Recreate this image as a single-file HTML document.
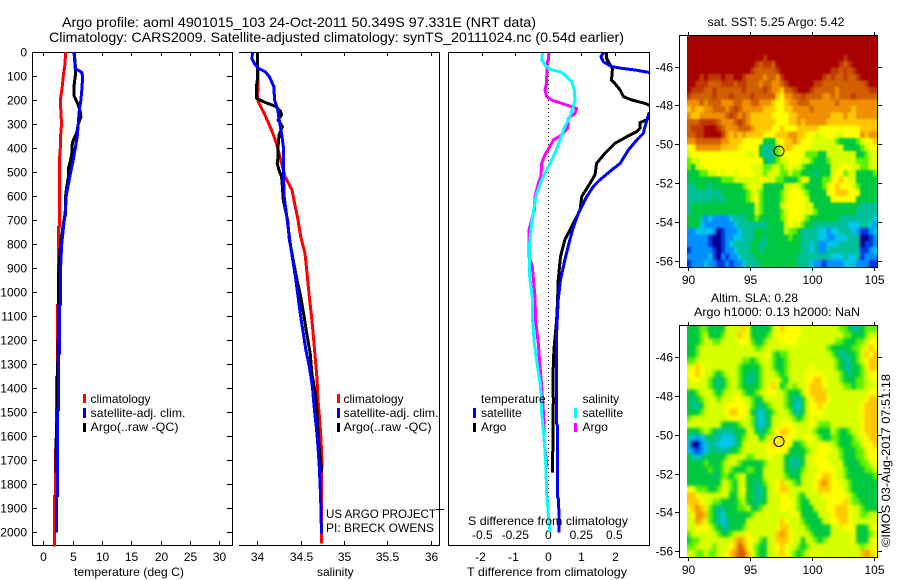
<!DOCTYPE html>
<html lang="en">
<head>
<meta charset="utf-8">
<title>Argo profile 4901015_103</title>
<style>
html,body{margin:0;padding:0;background:#fff;}
svg{display:block;}
text{font-family:"Liberation Sans",sans-serif;font-size:12px;fill:#000;}
.title{font-size:14px;}
</style>
</head>
<body>
<svg id="fig" xmlns="http://www.w3.org/2000/svg" width="900" height="580" viewBox="0 0 900 580">
<defs>
<filter id="sstSmooth" x="-5%" y="-5%" width="110%" height="110%" color-interpolation-filters="sRGB">
<feGaussianBlur stdDeviation="1"/>
<feComponentTransfer><feFuncA type="linear" slope="3"/></feComponentTransfer>
</filter>
<filter id="slaSmooth" x="-5%" y="-5%" width="110%" height="110%" color-interpolation-filters="sRGB">
<feGaussianBlur stdDeviation="1.6"/>
<feComponentTransfer><feFuncA type="linear" slope="3"/></feComponentTransfer>
</filter>
</defs>
<rect x="0" y="0" width="900" height="580" fill="#fff"/>
<text class="title" x="62" y="27" textLength="474" lengthAdjust="spacingAndGlyphs">Argo profile: aoml 4901015_103 24-Oct-2011 50.349S 97.331E (NRT data)</text>
<text class="title" x="49" y="42" textLength="575" lengthAdjust="spacingAndGlyphs">Climatology: CARS2009. Satellite-adjusted climatology: synTS_20111024.nc (0.54d earlier)</text>
<g id="plots"></g>

<text x="74" y="576" textLength="110" lengthAdjust="spacingAndGlyphs">temperature (deg C)</text>
<text x="317" y="576">salinity</text>
<text x="467" y="576" textLength="160" lengthAdjust="spacingAndGlyphs">T difference from climatology</text>
<text x="468" y="525" textLength="160" lengthAdjust="spacingAndGlyphs">S difference from climatology</text>

<g>
<rect x="83" y="394" width="3" height="9" fill="#ff0000"/>
<rect x="83" y="408" width="3" height="10" fill="#0000ff"/>
<rect x="83" y="423" width="3" height="9" fill="#000"/>
<text x="90.5" y="403">climatology</text>
<text x="90.5" y="417" textLength="95" lengthAdjust="spacingAndGlyphs">satellite-adj. clim.</text>
<text x="90.5" y="431" textLength="88" lengthAdjust="spacingAndGlyphs">Argo(..raw -QC)</text>
</g>
<g>
<rect x="337" y="394" width="3" height="9" fill="#ff0000"/>
<rect x="337" y="408" width="3" height="10" fill="#0000ff"/>
<rect x="337" y="423" width="3" height="9" fill="#000"/>
<text x="343.5" y="403">climatology</text>
<text x="343.5" y="417" textLength="95" lengthAdjust="spacingAndGlyphs">satellite-adj. clim.</text>
<text x="343.5" y="431" textLength="88" lengthAdjust="spacingAndGlyphs">Argo(..raw -QC)</text>
</g>
<text x="326" y="518" textLength="110" lengthAdjust="spacingAndGlyphs">US ARGO PROJECT</text>
<text x="326" y="532" textLength="108" lengthAdjust="spacingAndGlyphs">PI: BRECK OWENS</text>

<g>
<text x="481" y="403">temperature</text>
<rect x="473" y="408" width="3" height="10" fill="#0000ff"/>
<text x="481" y="417">satellite</text>
<rect x="473" y="423" width="3" height="9" fill="#000"/>
<text x="481" y="431">Argo</text>
<text x="582.5" y="403">salinity</text>
<rect x="574" y="408" width="3" height="10" fill="#00ffff"/>
<text x="582.5" y="417">satellite</text>
<rect x="574" y="423" width="3" height="9" fill="#ff00ff"/>
<text x="582.5" y="431">Argo</text>
</g>

<text x="707.5" y="26" textLength="137" lengthAdjust="spacingAndGlyphs">sat. SST: 5.25 Argo: 5.42</text>
<text x="711" y="302" textLength="87" lengthAdjust="spacingAndGlyphs">Altim. SLA: 0.28</text>
<text x="694" y="316" textLength="166" lengthAdjust="spacingAndGlyphs">Argo h1000: 0.13 h2000: NaN</text>
<text transform="translate(890,547) rotate(-90)" textLength="173" lengthAdjust="spacingAndGlyphs">©IMOS 03-Aug-2017 07:51:18</text>
</svg>

<script>
// ---------- Profile data: temperature panel ----------
const tempClimDepth = [0,50,100,150,200,250,300,350,400,436,728,729,1054,1055,1353,1354,1658,1659,1850,1851,2060];
const tempClimValue = [3.8,3.7,3.4,3.2,2.9,3.0,3.1,2.95,2.9,2.79,2.79,2.56,2.56,2.39,2.39,2.22,2.22,2.05,2.05,1.88,1.88];
const tempSatDepth = [0,70,75,85,100,150,200,250,300,350,400,450,500,550,600,650,700,750,800,900,1054,1055,1256,1257,1492,1493,1850,1851,2003];
const tempSatValue = [5.23,5.45,5.9,6.54,6.7,6.6,6.4,6.1,5.96,5.8,5.45,5.1,4.66,4.27,3.9,3.8,3.58,3.35,3.13,2.95,2.9,2.76,2.76,2.62,2.62,2.42,2.42,2.25,2.25];
const tempArgoDepth = [0,70,100,130,180,200,225,250,270,300,340,360,380,420,450,480,520,560,600,680,700,780,830,900,950,1000,1186,1256,1332,1450,1630,1752];
const tempArgoValue = [5.28,5.5,5.45,5.28,5.2,5.57,6.03,6.3,6.4,5.96,5.65,5.23,4.94,4.88,4.65,4.33,4.27,4.0,3.8,3.75,3.55,3.02,2.85,2.67,2.56,2.62,2.56,2.5,2.42,2.42,2.18,2.18];

// ---------- Profile data: salinity panel ----------
const salClimDepth = [0,144,193,214,256,297,339,381,422,464,519,575,631,700,769,839,908,1019,1117,1200,1283,1367,1450,1533,1617,1700,1811,2047];
const salClimValue = [34.0,34.01,34.0,34.02,34.08,34.13,34.18,34.22,34.25,34.28,34.32,34.40,34.43,34.47,34.50,34.55,34.57,34.60,34.63,34.65,34.67,34.69,34.70,34.72,34.735,34.745,34.74,34.74];
const salSatDepth = [0,26,47,68,82,103,144,200,242,297,339,394,492,603,658,742,811,881,950,1019,1103,1172,1242,1311,1394,1478,1561,1644,1728,1853,2006];
const salSatValue = [33.95,33.935,33.965,34.01,34.09,34.14,34.19,34.20,34.235,34.26,34.28,34.30,34.30,34.31,34.33,34.36,34.385,34.415,34.445,34.47,34.50,34.53,34.56,34.60,34.635,34.655,34.68,34.70,34.715,34.73,34.74];
const salArgoDepth = [0,117,144,193,207,228,249,262,283,311,346,394,436,464,492,519,617,700,783,839,936,1019,1103,1172,1256,1339,1422,1506,1589,1672,1742,1752];
const salArgoValue = [34.0,34.0,33.99,33.99,34.07,34.22,34.27,34.28,34.24,34.29,34.25,34.24,34.24,34.23,34.25,34.28,34.30,34.35,34.37,34.40,34.45,34.50,34.54,34.57,34.61,34.63,34.67,34.69,34.70,34.72,34.74,34.735];

// ---------- Profile data: difference panel ----------
const diffTSatDepth = [0,19,40,61,68,75,85,103,228,256,311,339,367,408,464,492,533,561,603,672,728,783,867,950,1033,1172,1547,1561,1853,1867,2003];
const diffTSatValue = [1.69,1.59,1.66,1.91,2.22,2.62,3.04,3.73,3.52,3.04,2.92,2.87,2.67,2.42,2.17,1.91,1.56,1.36,1.16,0.91,0.76,0.65,0.50,0.37,0.30,0.25,0.25,0.28,0.28,0.31,0.33];
const diffTArgoDepth = [0,26,47,68,117,131,158,186,200,214,221,249,276,283,294,318,332,353,381,422,464,512,547,603,658,686,742,783,853,950,1033,1117,1242,1353,1450,1728,1753];
const diffTArgoValue = [1.76,1.76,1.84,1.94,1.91,2.01,2.17,2.27,2.52,2.92,3.04,3.32,3.04,2.97,2.77,2.77,2.67,2.37,2.01,1.71,1.46,1.41,1.26,1.01,0.96,0.86,0.65,0.50,0.37,0.30,0.28,0.25,0.17,0.14,0.15,0.13,0.12];
const diffSArgoDepth = [0,33,47,131,158,186,200,214,235,256,276,318,346,367,394,428,464,519,547,603,658,742,853,894,1019,1117,1214,1311,1394,1519,1630,1728];
const diffSArgoValue = [0.005,0,-0.01,-0.013,-0.025,-0.013,0.025,0.101,0.215,0.202,0.152,0.146,0.101,0.038,0.013,-0.025,-0.05,-0.056,-0.076,-0.101,-0.106,-0.146,-0.146,-0.121,-0.101,-0.096,-0.076,-0.063,-0.05,-0.035,-0.03,-0.008];
const diffSSatDepth = [0,33,54,72,82,96,124,158,200,228,269,311,367,422,478,533,589,644,714,811,922,1026,1117,1214,1311,1394,1506,1617,1728,1839,1922,1999];
const diffSSatValue = [-0.043,-0.05,-0.025,0.013,0.088,0.126,0.177,0.197,0.202,0.189,0.164,0.126,0.088,0.05,0,-0.05,-0.088,-0.106,-0.126,-0.144,-0.144,-0.121,-0.119,-0.106,-0.081,-0.058,-0.05,-0.03,-0.018,-0.013,0,0.013];

// ---------- Tick labels ----------
const depthTicks = [0,100,200,300,400,500,600,700,800,900,1000,1100,1200,1300,1400,1500,1600,1700,1800,1900,2000];
const tempTicks = [0,5,10,15,20,25,30];
const salTicks = [34,34.5,35,35.5,36];
const diffTTicks = [-2,-1,0,1,2];
const diffSTicks = [-0.5,-0.25,0,0.25,0.5];
const lonTicks = [90,95,100,105];
const latTicks = [-46,-48,-50,-52,-54,-56];
const profileLon = 97.331;
const profileLat = -50.349;

// ---------- Map data: colour level per grid cell (hex digit, 0 = coldest/lowest) ----------
const mapLevels = ['#000090','#0038e0','#0090ff','#00c8e8','#00c098','#00c840','#60f000','#d8ff00','#ffff00','#ffc800','#f09000','#d06000','#c03800','#a80000'];
const sstRows = [
"ddddd ddddd ddddd ddddd ddddd ddddd ddddd ddddd ddddd",
"ddddd ddddd ddddd ddddd ddddd ddddd ddddd ddddd ddddd",
"ddddd ddddd ddddd ddddd ddddd ddddd ddddd ddddd ddddd",
"ddddd ddddd ddddd dddcd ddddd ddddd ddddd ddcdd ddddd",
"ddddd ddddd ddddd dcbcc bdddd ddddd ddddd dcbcd ddddd",
"ddddd ddddd ddddd cbbbb bcddd ddddd ddddc cbcbc ddddd",
"dddcd cccdc cddcb bbbab bacdd ddddd ddcbc bbcbb cdddd",
"ddccc bbbcc cbccb bbabb aabcd ddddd ccbbb bbbbb bbcdd",
"dcccb bcbbb bbbcb bbbcb aa9bb cdddc bbbbb abbbb bbbcc",
"cbbbb bcbbb cbbbb cbbbb b98aa bbcbb bbaab abbbc bbbbb",
"aaaba bbbaa abbaa bbaaa 9889a abbba aaaaa baaaa aaaaa",
"9a99a abbba bcbaa aaa99 98899 aaaab aaaaa aaaa9 aaaaa",
"a99aa aaaab cbaba 99999 88889 9aaaa aaaa9 99a99 aaaaa",
"bbbcc ccbaa abcba 99999 98889 9a9aa aaa99 99999 99999",
"bcccd ddcba aabbb a9999 88988 89999 98888 88888 89999",
"bbccd dddca 9a9a9 99988 8999a a9988 77888 77888 8a9aa",
"aabbb bbbaa 99988 88855 58899 a9888 77777 65555 67889",
"88aaa aaa99 99888 88544 56899 88887 77777 77555 56788",
"78888 88888 88887 78544 46888 88866 65577 77777 55677",
"67788 88888 88888 88854 56778 88776 55567 77777 66677",
"65778 88888 88888 77766 77678 77655 55557 78887 76677",
"55566 77878 87888 87767 77667 66555 45557 88677 55556",
"55555 55566 67777 77887 76655 56875 55668 89877 55555",
"44555 45555 55567 87755 55577 87655 55688 98887 65555",
"44444 44455 55556 77655 55678 88765 55588 99988 85555",
"44444 45445 55556 78655 55678 88875 55558 88888 55555",
"45555 55555 55555 57655 55788 88877 55555 55555 54444",
"45555 55555 55555 57655 55678 88877 65555 55555 44444",
"55542 32222 34445 56555 55678 88765 55555 54444 44443",
"55532 22222 23444 44445 55578 77655 44444 44433 34432",
"22333 32012 22344 45555 55576 65444 43323 34443 21123",
"22222 10012 23344 45545 55556 55444 43322 33344 40012",
"22222 10012 34444 55445 55555 55443 42233 34444 40112",
"12222 21012 23444 55455 55555 55443 42244 44444 41123",
"22222 31021 22344 45555 55555 54444 44443 33433 41222",
"12223 22112 12234 44555 55555 54443 22122 22333 22211"
];
const slaRows = [
"55566 55557 77798 55555 78988 88777 77777 76654 45666",
"55567 55567 77988 55556 78888 88777 77777 77665 55677",
"55567 76677 77888 65567 77888 87777 77777 66555 66788",
"55677 77777 77777 76677 77777 77777 77765 55556 67898",
"55677 77777 77777 77778 65667 77777 77776 54455 67989",
"66777 77777 77766 56777 65567 77777 77777 65445 67899",
"78987 77777 77655 55677 65567 77778 77777 65445 56899",
"88987 76567 77655 45677 76567 77788 88777 76545 56788",
"78877 65456 77654 45677 78657 77788 99877 76555 66778",
"77777 65456 77655 55678 97567 67789 99877 77665 66777",
"55677 76567 77765 56778 87765 55789 99977 77777 77788",
"54567 77677 78877 65577 77765 44578 99987 77777 77899",
"54457 77778 88887 65456 77765 43578 89877 77777 78999",
"55567 77778 99887 54345 67776 44578 88777 77777 78999",
"67777 77777 88877 64345 77777 65678 77777 77777 78999",
"77777 77755 55677 64345 77888 77778 76667 77777 78999",
"55567 65444 45557 75456 78998 87777 65557 65567 78999",
"43234 54433 34567 77567 78988 77788 76556 65556 77899",
"30023 44333 34577 77778 98888 55677 78877 65556 67889",
"32123 45444 55677 77778 88885 55567 78887 76555 66888",
"54345 55556 77776 67778 77755 45577 88877 76555 66788",
"55556 55567 77655 55567 77754 44577 88887 77555 56678",
"55555 65567 65556 65577 77755 45677 78888 77655 55667",
"55555 54566 56775 55577 77765 55777 88998 77655 55556",
"55555 55577 65775 54567 78977 65777 89a98 87765 55555",
"88666 55677 65785 54457 78997 77777 89998 88765 55555",
"99877 77777 55775 54457 77887 76577 77888 88876 55555",
"99987 76655 55675 54557 77888 76557 77788 88976 65555",
"89a98 65445 55667 55677 77888 76555 77788 99987 76555",
"78aa9 65435 55555 67777 77777 87555 57778 99987 76677",
"77a98 65434 55557 77777 77987 77655 55778 89987 77777",
"77888 76544 55567 77777 78997 77765 55557 77888 55578",
"67777 77655 67778 77777 79a98 77776 55557 77778 55567",
"56677 77777 79a98 87657 79998 77577 65677 77778 55578",
"66777 76777 89ba8 76557 78987 76567 77777 77777 76778",
"77667 66778 9abb9 86557 77987 65677 77777 77777 79a98"
];

// ---------- Scales ----------
const depthY = d => 52 + d * 0.24;
const tempX = t => 43.3 + t * 5.87;
const salX = s => 257.3 + (s - 34) * 86.7;
const diffTX = t => 548.3 + t * 33.1;
const diffSX = s => 548.3 + s * 132;
const lonX = l => 688 + (l - 90) * 12.42;
const sstLatY = l => 144.3 + (-50 - l) * 19.43;
const slaLatY = l => 434.7 + (-50 - l) * 19.43;

// ---------- Drawing helpers ----------
const NS = 'http://www.w3.org/2000/svg';
const root = document.getElementById('plots');
function mk(tag, name, attrs, parent) {
  const e = document.createElementNS(NS, tag);
  
  
  for (const k in attrs) e.setAttribute(k, attrs[k]);
  (parent || root).appendChild(e);
  return e;
}
function line(name, x1, y1, x2, y2, parent) {
  return mk('line', name, {x1, y1, x2, y2, stroke: '#000', 'stroke-width': 1, 'shape-rendering': 'crispEdges'}, parent);
}
function label(name, x, y, str, anchor, parent) {
  const t = mk('text', name, {x, y, 'text-anchor': anchor || 'middle'}, parent);
  t.textContent = str;
  return t;
}
function curve(name, depths, values, xf, color, parent, clip) {
  const pts = depths.map((d, i) => xf(values[i]).toFixed(1) + ',' + depthY(d).toFixed(1)).join(' ');
  const attrs = {points: pts, fill: 'none', stroke: color, 'stroke-width': 3, 'stroke-linejoin': 'round', 'shape-rendering': 'crispEdges'};
  if (clip) attrs['clip-path'] = 'url(#' + clip + ')';
  return mk('polyline', name, attrs, parent);
}

// ---------- Temperature panel ----------
const gT = mk('g', 'temperature-panel', {});
line('temperature-axis-left', 32.5, 52, 32.5, 545.5, gT);
line('temperature-axis-right', 232.5, 52, 232.5, 545.5, gT);
line('temperature-axis-top', 32, 52.5, 233, 52.5, gT);
line('temperature-axis-bottom', 32, 545.5, 233, 545.5, gT);
depthTicks.forEach(d => {
  const y = Math.round(depthY(d)) + 0.5;
  line('depth-tick-left', 32, y, 37, y, gT);
  line('depth-tick-right', 227, y, 232, y, gT);
  label('depth-tick-label', 27, y + 4, String(d), 'end', gT);
});
tempTicks.forEach(t => {
  const x = Math.round(tempX(t)) + 0.5;
  line('temperature-tick-top', x, 52, x, 56, gT);
  line('temperature-tick-bottom', x, 541, x, 545, gT);
  label('temperature-tick-label', x, 561, String(t), 'middle', gT);
});
curve('temperature-climatology-line', tempClimDepth, tempClimValue, tempX, '#ff0000', gT);
curve('temperature-argo-line', tempArgoDepth, tempArgoValue, tempX, '#000000', gT);
curve('temperature-satellite-line', tempSatDepth, tempSatValue, tempX, '#0000ff', gT);

// ---------- Salinity panel ----------
const gS = mk('g', 'salinity-panel', {});
line('salinity-axis-right', 439.5, 52, 439.5, 545.5, gS);
line('salinity-axis-top', 239, 52.5, 440, 52.5, gS);
line('salinity-axis-bottom', 239, 545.5, 440, 545.5, gS);
line('salinity-depth-tick', 436, 509.5, 444, 509.5, gS);
salTicks.forEach(s => {
  const x = Math.round(salX(s)) + 0.5;
  line('salinity-tick-top', x, 52, x, 56, gS);
  line('salinity-tick-bottom', x, 541, x, 545, gS);
  label('salinity-tick-label', x, 561, String(s), 'middle', gS);
});
curve('salinity-climatology-line', salClimDepth, salClimValue, salX, '#ff0000', gS);
curve('salinity-argo-line', salArgoDepth, salArgoValue, salX, '#000000', gS);
curve('salinity-satellite-line', salSatDepth, salSatValue, salX, '#0000ff', gS);

// ---------- Difference panel ----------
const defs = mk('defs', 'clip-definitions', {});
const cp = mk('clipPath', 'difference-clip', {id: 'diffClip'}, defs);
mk('rect', 'difference-clip-area', {x: 449, y: 53, width: 200, height: 492}, cp);
const gD = mk('g', 'difference-panel', {});
line('difference-axis-left', 448.5, 52, 448.5, 545.5, gD);
line('difference-axis-right', 649.5, 52, 649.5, 545.5, gD);
line('difference-axis-top', 448, 52.5, 650, 52.5, gD);
line('difference-axis-bottom', 448, 545.5, 650, 545.5, gD);
diffTTicks.forEach(t => {
  const x = Math.round(diffTX(t)) + 0.5;
  line('t-difference-tick-top', x, 52, x, 56, gD);
  label('t-difference-tick-label', x - (t < 0 ? 2 : 0), 561, String(t), 'middle', gD);
});
diffSTicks.forEach(s => {
  label('s-difference-tick-label', diffSX(s) , 539, String(s), 'middle', gD);
});
mk('line', 'zero-difference-line', {x1: diffTX(0), y1: depthY(0), x2: diffTX(0), y2: depthY(2000), stroke: '#000', 'stroke-width': 1, 'stroke-dasharray': '1 3', 'shape-rendering': 'crispEdges'}, gD);
curve('t-difference-argo-line', diffTArgoDepth, diffTArgoValue, diffTX, '#000000', gD, 'diffClip');
curve('t-difference-satellite-line', diffTSatDepth, diffTSatValue, diffTX, '#0000ff', gD, 'diffClip');
curve('s-difference-argo-line', diffSArgoDepth, diffSArgoValue, diffSX, '#ff00ff', gD, 'diffClip');
curve('s-difference-satellite-line', diffSSatDepth, diffSSatValue, diffSX, '#00ffff', gD, 'diffClip');

// ---------- Maps ----------
function drawMap(prefix, rows, latY, boxTop, boxBottom, lonLabelY, filterId) {
  const g = mk('g', prefix + '-map', {});
  const clip = mk('clipPath', prefix + '-map-clip', {id: prefix + 'Clip'}, defs);
  mk('rect', prefix + '-map-clip-area', {x: 687, y: boxTop + 1, width: 190, height: boxBottom - boxTop - 1}, clip);
  const clipped = mk('g', prefix + '-image-area', {'clip-path': 'url(#' + prefix + 'Clip)'}, g);
  const smooth = mk('g', prefix + '-image', {filter: 'url(#' + filterId + ')'}, clipped);
  const lonStep = 0.34, latStep = 0.3302, lonStart = 89.92, latStart = -44.4;
  rows.forEach((rowStr, j) => {
    const row = rowStr.replace(/ /g, '');
    for (let i = 0; i < row.length; i++) {
      const x0 = lonX(lonStart + i * lonStep), x1 = lonX(lonStart + (i + 1) * lonStep);
      const y0 = boxTop + 0.5 + (latY(latStart - j * latStep) - latY(latStart));
      const y1 = boxTop + 0.5 + (latY(latStart - (j + 1) * latStep) - latY(latStart));
      mk('rect', prefix + '-cell', {x: x0.toFixed(2), y: y0.toFixed(2), width: (x1 - x0 + 0.3).toFixed(2), height: (y1 - y0 + 0.3).toFixed(2), fill: mapLevels[parseInt(row[i], 16)], 'shape-rendering': 'crispEdges'}, smooth);
    }
  });
  mk('rect', prefix + '-frame', {x: 679.5, y: boxTop + 0.5, width: 198, height: boxBottom - boxTop, fill: 'none', stroke: '#000', 'stroke-width': 1, 'shape-rendering': 'crispEdges'}, g);
  lonTicks.forEach(l => {
    const x = Math.round(lonX(l)) + 0.5;
    line(prefix + '-lon-tick-top', x, boxTop - 3, x, boxTop, g);
    line(prefix + '-lon-tick-bottom', x, boxBottom + 1, x, boxBottom + 4, g);
    label(prefix + '-lon-tick-label', x, lonLabelY, String(l), 'middle', g);
  });
  latTicks.forEach(l => {
    const y = Math.round(latY(l)) + 0.5;
    line(prefix + '-lat-tick-left', 675, y, 679, y, g);
    line(prefix + '-lat-tick-right', 878, y, 882, y, g);
    label(prefix + '-lat-tick-label', 673, y + 4, String(l), 'end', g);
  });
  mk('circle', prefix + '-profile-marker', {cx: lonX(profileLon), cy: latY(profileLat), r: 5, fill: 'none', stroke: '#000', 'stroke-width': 1}, g);
}
drawMap('sst', sstRows, sstLatY, 35, 267, 284, 'sstSmooth');
drawMap('sla', slaRows, slaLatY, 325, 557, 574, 'slaSmooth');
</script>
</body>
</html>
